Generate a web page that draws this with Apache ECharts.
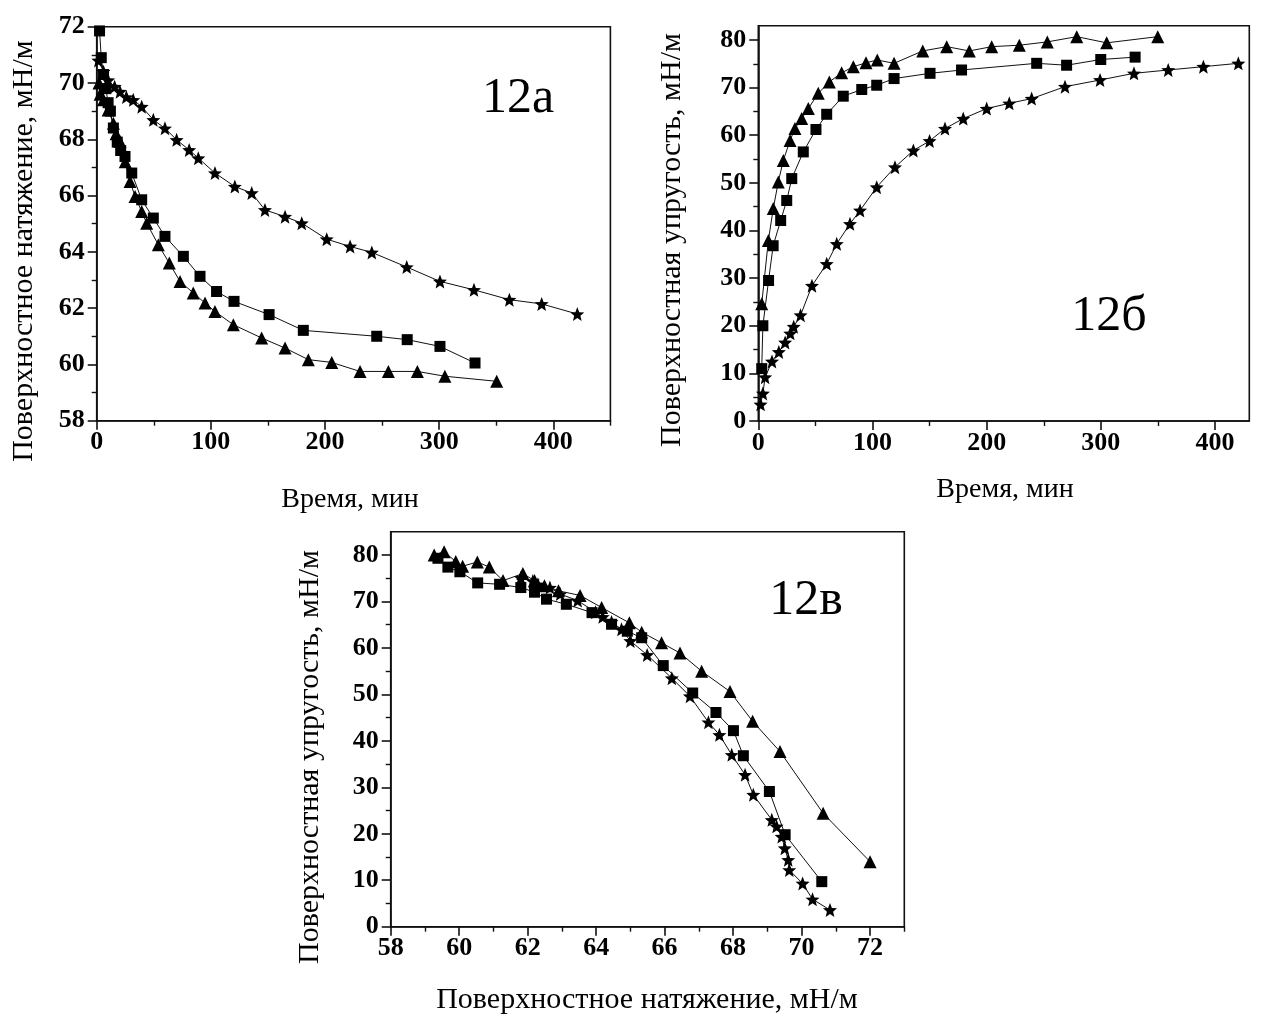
<!DOCTYPE html>
<html><head><meta charset="utf-8">
<script src="https://cdn.jsdelivr.net/npm/echarts@6/dist/echarts.min.js"></script>
<style>html,body{margin:0;padding:0;background:#fff}#c{width:1265px;height:1019px}</style>
</head><body><div id="c"></div>
<script>
// ---------- 12а : surface tension vs time ----------
const tA_sq  = [2.5, 4, 6, 8, 10, 12, 14.6, 18, 21, 24.8, 30.7, 39.4, 49.6, 59.8, 75.9, 90.5, 105, 120.3, 151, 181, 245.3, 272, 300.7, 331.4];
const gA_sq  = [71.85, 70.9, 70.3, 69.8, 69.3, 69.0, 68.4, 67.9, 67.6, 67.39, 66.8, 65.85, 65.2, 64.55, 63.84, 63.13, 62.59, 62.24, 61.77, 61.21, 61.0, 60.88, 60.64, 60.05];
const tA_tri = [2, 3, 6, 10, 14.6, 17, 20.4, 25, 29.2, 33.6, 39.4, 43.8, 54, 63.6, 73, 84.6, 94.9, 103.6, 119.7, 144.5, 165, 185.4, 205.9, 230.7, 255.5, 280.9, 305, 350.4];
const gA_tri = [70.0, 69.6, 69.4, 69.04, 68.57, 68.2, 67.92, 67.2, 66.5, 65.97, 65.43, 65.02, 64.25, 63.6, 62.95, 62.54, 62.18, 61.88, 61.41, 60.94, 60.58, 60.17, 60.07, 59.75, 59.75, 59.75, 59.58, 59.4];
const tA_st  = [1.5, 6, 10, 15.7, 20.4, 26, 32, 39.4, 49.6, 59.8, 70, 81, 89, 103.6, 121, 135.8, 147.4, 165, 179.6, 201.5, 222, 241, 271.6, 300.7, 330.5, 361.5, 389.8, 421];
const gA_st  = [70.8, 70.4, 70.1, 69.87, 69.69, 69.5, 69.4, 69.16, 68.69, 68.39, 67.98, 67.62, 67.33, 66.8, 66.32, 66.09, 65.49, 65.25, 65.02, 64.45, 64.19, 63.98, 63.46, 62.95, 62.65, 62.3, 62.15, 61.79];

// ---------- 12б : surface elasticity vs time ----------
const tB_sq  = [3, 4, 9, 13, 19.6, 24.9, 29.3, 39.4, 50.5, 59.9, 74.4, 90.6, 103.7, 118.9, 150.4, 178, 243.8, 270, 299.9, 330];
const eB_sq  = [11, 20, 29.5, 36.8, 42.1, 46.3, 50.9, 56.5, 61.2, 64.4, 68.2, 69.6, 70.5, 71.9, 73.0, 73.7, 75.1, 74.7, 75.9, 76.4];
const tB_tri = [3, 8.8, 13.1, 17.5, 21.9, 27.8, 32.1, 38, 43.8, 52.5, 62.2, 73, 83.2, 94.3, 104.2, 118.9, 144, 165, 184.8, 204.4, 228.6, 253.1, 278.9, 305.1, 349.8];
const eB_tri = [24.6, 37.9, 44.6, 50.2, 54.7, 58.9, 61.4, 63.5, 65.6, 68.8, 71.2, 73.1, 74.4, 75.2, 75.8, 75.1, 77.7, 78.6, 77.7, 78.6, 78.9, 79.6, 80.7, 79.4, 80.7];
const tB_st  = [2, 4, 6, 12, 18, 23.5, 28, 31, 37, 47, 59.9, 68.7, 80.3, 89.1, 103.7, 119.7, 135.8, 150, 163.5, 179.5, 200, 219.8, 239.4, 268.6, 299.3, 329, 359, 389.8, 420.4];
const eB_st  = [3.5, 5.8, 9.2, 12.5, 14.5, 16.5, 18.4, 19.8, 22.2, 28.4, 33.0, 37.2, 41.4, 44.2, 49.1, 53.3, 56.8, 58.8, 61.4, 63.5, 65.6, 66.7, 67.7, 70.2, 71.6, 73.0, 73.7, 74.4, 75.1];

// ---------- 12в : elasticity vs tension ----------
const gC_tri = [72.0, 70.63, 69.37, 68.57, 67.91, 67.08, 66.45, 65.91, 65.33, 64.97, 64.16, 63.53, 62.9, 62.49, 62.2, 61.86, 61.28, 60.88, 60.53, 60.1, 59.9, 59.56, 59.27];
const eC_tri = [14.0, 24.4, 37.7, 44.2, 50.6, 55.0, 58.9, 61.1, 63.4, 65.4, 68.7, 71.3, 72.3, 73.4, 74.5, 76.0, 74.5, 77.4, 78.5, 77.6, 78.6, 80.7, 80.0];
const gC_sq  = [70.59, 69.52, 69.06, 68.3, 68.01, 67.5, 66.82, 65.96, 65.33, 64.91, 64.45, 63.88, 63.13, 62.55, 62.2, 61.8, 61.18, 60.54, 60.02, 59.67, 59.38];
const eC_sq  = [9.7, 19.8, 29.1, 36.8, 42.2, 46.1, 50.3, 56.2, 62.2, 63.6, 65.1, 67.6, 69.4, 70.5, 72.0, 73.0, 73.7, 74.0, 76.4, 77.4, 79.3];
const gC_st  = [70.83, 70.32, 70.03, 69.64, 69.61, 69.51, 69.42, 69.27, 69.13, 68.59, 68.35, 67.96, 67.6, 67.28, 66.74, 66.21, 65.49, 65.0, 64.74, 64.45, 64.19, 63.98, 63.46, 62.95, 62.65, 62.3, 62.15, 61.8];
const eC_st  = [3.6, 5.9, 9.3, 12.2, 14.4, 16.9, 19.4, 21.6, 23.0, 28.4, 32.7, 37.0, 41.3, 44.0, 49.6, 53.5, 58.5, 61.5, 64.0, 65.6, 66.7, 67.7, 70.2, 71.6, 73.0, 73.7, 74.4, 75.1];

// ---------- tick values ----------
const timeTicks      = [0, 100, 200, 300, 400];
const timeMinor      = [50, 150, 250, 350, 450];
const tensionTicks   = [58, 60, 62, 64, 66, 68, 70, 72];
const tensionMinor   = [59, 61, 63, 65, 67, 69, 71, 73];
const elastTicks     = [0, 10, 20, 30, 40, 50, 60, 70, 80];
const elastMinor     = [5, 15, 25, 35, 45, 55, 65, 75];

const titleTension = 'Поверхностное натяжение, мН/м';
const titleElast   = 'Поверхностная упругость, мН/м';
const titleTime    = 'Время, мин';

const STAR = 'path://M0,-10 L2.6,-3.4 L9.5,-3.1 L4.2,1.4 L5.9,8.1 L0,4.3 L-5.9,8.1 L-4.2,1.4 L-9.5,-3.1 L-2.6,-3.4 Z';
const SERIF = '"Liberation Serif","Times New Roman",serif';

function zip(a, b) { return a.map((v, i) => [v, b[i]]); }

function axes(dim, grid, min, max, majors, minors) {
  const pos = dim === 'x' ? 'bottom' : 'left';
  const major = {
    type: 'value', gridIndex: grid, min: min, max: max, position: pos,
    axisLine: { show: true, onZero: false, lineStyle: { color: '#111', width: 1.6 } },
    axisTick: { show: true, inside: false, length: 9, customValues: majors, lineStyle: { color: '#111', width: 1.6 } },
    axisLabel: { show: true, customValues: majors, margin: dim === 'x' ? 9 : 12,
      fontFamily: SERIF, fontWeight: 'bold', fontSize: 26, color: '#000' },
    splitLine: { show: false }, minorTick: { show: false }
  };
  const minor = {
    type: 'value', gridIndex: grid, min: min, max: max, position: pos,
    axisLine: { show: false, onZero: false },
    axisTick: { show: true, inside: false, length: 5, customValues: minors, lineStyle: { color: '#111', width: 1.4 } },
    axisLabel: { show: false }, splitLine: { show: false }
  };
  return [major, minor];
}

function ser(name, data, xi, yi, symbol, size) {
  return {
    type: 'line', name: name, xAxisIndex: xi, yAxisIndex: yi, data: data,
    symbol: symbol, symbolSize: size, showSymbol: true,
    lineStyle: { color: '#111', width: 1 },
    itemStyle: { color: '#000', borderWidth: 0 },
    animation: false, silent: true
  };
}

const grids = [
  { left: 96.7, top: 26.7, width: 513.7, height: 394 },
  { left: 758.3, top: 25.7, width: 491, height: 395.3 },
  { left: 390.7, top: 531.8, width: 513.6, height: 394.9 }
].map(g => Object.assign(g, { show: true, borderColor: '#111', borderWidth: 1.6, backgroundColor: 'transparent', containLabel: false }));

const xAxis = [].concat(
  axes('x', 0, 0, 450, timeTicks, timeMinor),
  axes('x', 1, 0, 430, timeTicks, [50, 150, 250, 350]),
  axes('x', 2, 58, 73, tensionTicks, tensionMinor)
);
const yAxis = [].concat(
  axes('y', 0, 58, 72, tensionTicks, [59, 61, 63, 65, 67, 69, 71]),
  axes('y', 1, 0, 83, elastTicks, elastMinor),
  axes('y', 2, 0, 85, elastTicks, elastMinor)
);

function txt(x, y, text, size, rot) {
  return { type: 'text', x: x, y: y, rotation: rot || 0, silent: true,
    style: { text: text, font: size + 'px ' + SERIF, fill: '#000', align: 'center', verticalAlign: 'middle' } };
}

const option = {
  backgroundColor: '#fff',
  animation: false,
  grid: grids,
  xAxis: xAxis,
  yAxis: yAxis,
  series: [
    ser('A-square', zip(tA_sq, gA_sq), 0, 0, 'rect', 11),
    ser('A-triangle', zip(tA_tri, gA_tri), 0, 0, 'triangle', 13),
    ser('A-star', zip(tA_st, gA_st), 0, 0, STAR, 14),
    ser('B-square', zip(tB_sq, eB_sq), 2, 2, 'rect', 11),
    ser('B-triangle', zip(tB_tri, eB_tri), 2, 2, 'triangle', 13),
    ser('B-star', zip(tB_st, eB_st), 2, 2, STAR, 14),
    ser('C-square', zip(gC_sq, eC_sq), 4, 4, 'rect', 11),
    ser('C-triangle', zip(gC_tri, eC_tri), 4, 4, 'triangle', 13),
    ser('C-star', zip(gC_st, eC_st), 4, 4, STAR, 14)
  ],
  graphic: [
    txt(24, 251, titleTension, 30, Math.PI / 2),
    txt(350, 500, titleTime, 28),
    txt(672, 240, titleElast, 30, Math.PI / 2),
    txt(1005, 490, titleTime, 28),
    txt(310, 757, titleElast, 30, Math.PI / 2),
    txt(647, 1000, titleTension, 30),
    txt(518, 99, '12а', 50),
    txt(1109, 317, '12б', 50),
    txt(806, 601, '12в', 50)
  ]
};
const chart = echarts.init(document.getElementById('c'), null, { renderer: 'canvas' });
chart.setOption(option);
</script>
</body></html>
